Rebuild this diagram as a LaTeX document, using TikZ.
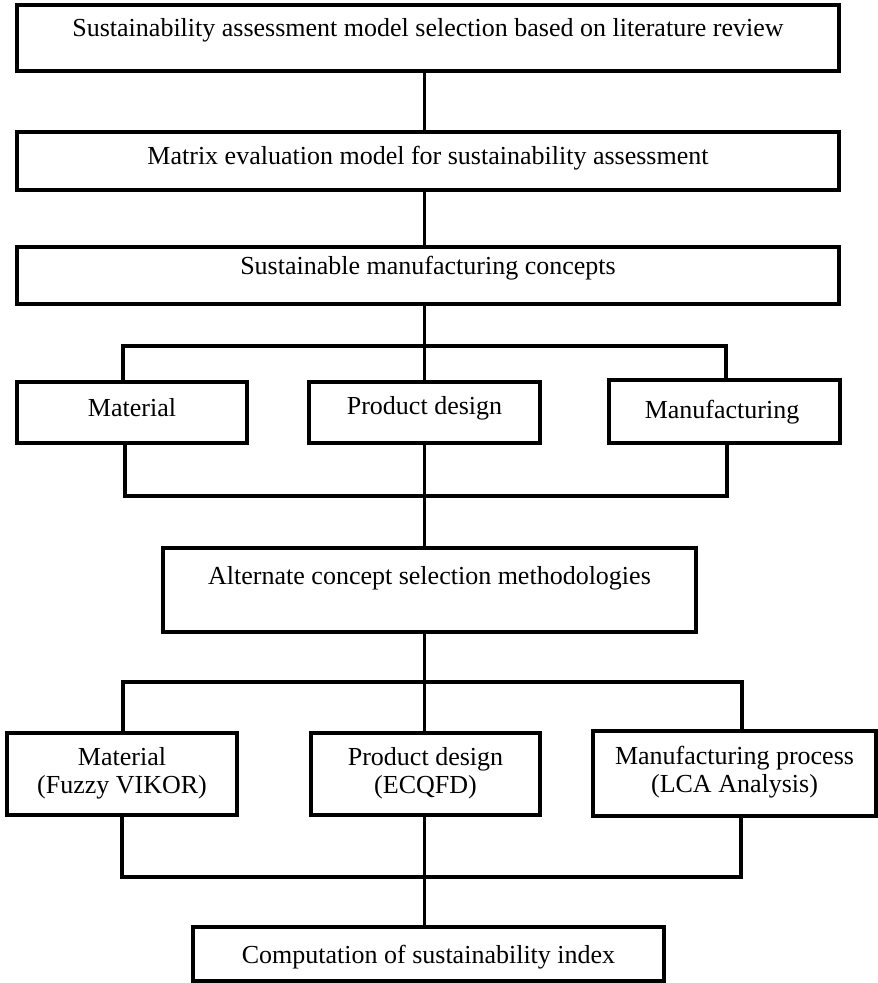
\documentclass[tikz,border=0pt]{standalone}
\usepackage{fontspec}
\setmainfont{Liberation Serif}
\begin{document}
\begin{tikzpicture}[x=1pt,y=-1pt]
\tikzset{
  box/.style={draw=black, line width=3.3pt, rectangle, inner sep=0pt, fill=white},
  txt/.style={font=\fontsize{26}{28}\selectfont, align=center, inner sep=0pt},
  link/.style={draw=black, line width=3.3pt}
}
\useasboundingbox[fill=white] (0,0) rectangle (878,983);

% central spine of the flow chart
\coordinate (sp) at (424.5,0);

% top three stages
\node[box, minimum width=822pt, minimum height=66pt] (b1) at (428,38) {};
\node[txt] (t1) at (428,30) {Sustainability assessment model selection based on literature review};
\node[box, minimum width=822pt, minimum height=58pt] (b2) at (428,161) {};
\node[txt] (t2) at (428,158) {Matrix evaluation model for sustainability assessment};
\node[box, minimum width=822pt, minimum height=57pt] (b3) at (428,275.5) {};
\node[txt] (t3) at (428,268) {Sustainable manufacturing concepts};

% first row of concepts
\node[box, minimum width=230pt, minimum height=61pt] (m1) at (132,412.5) {};
\node[txt] (tm1) at (132,408) {Material};
\node[box, minimum width=231pt, minimum height=61pt] (p1) at (424.5,412.5) {};
\node[txt] (tp1) at (424.5,408) {Product design};
\node[box, minimum width=231pt, minimum height=63pt] (f1) at (724.5,411.5) {};
\node[txt] (tf1) at (722,412) {Manufacturing};

% selection methodologies
\node[box, minimum width=533pt, minimum height=84pt] (alt) at (429.5,590) {};
\node[txt] (talt) at (429.5,578) {Alternate concept selection methodologies};

% second row with methods
\node[box, minimum width=230pt, minimum height=82pt] (m2) at (122,774) {};
\node[txt] (tm2) at (122,773) {Material\\(Fuzzy VIKOR)};
\node[box, minimum width=229pt, minimum height=82pt] (p2) at (425.5,774) {};
\node[txt] (tp2) at (425.5,773) {Product design\\(ECQFD)};
\node[box, minimum width=283pt, minimum height=85pt] (f2) at (734.5,773.5) {};
\node[txt] (tf2) at (734.5,772) {Manufacturing process\\(LCA Analysis)};

% final stage
\node[box, minimum width=471pt, minimum height=54pt] (ci) at (428.5,954) {};
\node[txt] (tci) at (428.5,957) {Computation of sustainability index};

% junction points of the branching bars
\coordinate (s1L) at (123,346);
\coordinate (s1R) at (726,346);
\coordinate (j1L) at (125,496);
\coordinate (j1R) at (727,496);
\coordinate (s2L) at (123,682);
\coordinate (s2R) at (742,682);
\coordinate (j2L) at (122,877);
\coordinate (j2R) at (741,877);

% connectors
\draw[link] (b1.south -| sp) -- (b2.north -| sp);
\draw[link] (b2.south -| sp) -- (b3.north -| sp);
\draw[link] (b3.south -| sp) -- (p1.north -| sp);
\draw[link] (m1.north -| s1L) -- (s1L) -- (s1R) -- (f1.north -| s1R);
\draw[link] (m1.south -| j1L) -- (j1L) -- (j1R) -- (f1.south -| j1R);
\draw[link] (p1.south -| sp) -- (alt.north -| sp);
\draw[link] (alt.south -| sp) -- (p2.north -| sp);
\draw[link] (m2.north -| s2L) -- (s2L) -- (s2R) -- (f2.north -| s2R);
\draw[link] (m2.south -| j2L) -- (j2L) -- (j2R) -- (f2.south -| j2R);
\draw[link] (p2.south -| sp) -- (ci.north -| sp);
\end{tikzpicture}
\end{document}
